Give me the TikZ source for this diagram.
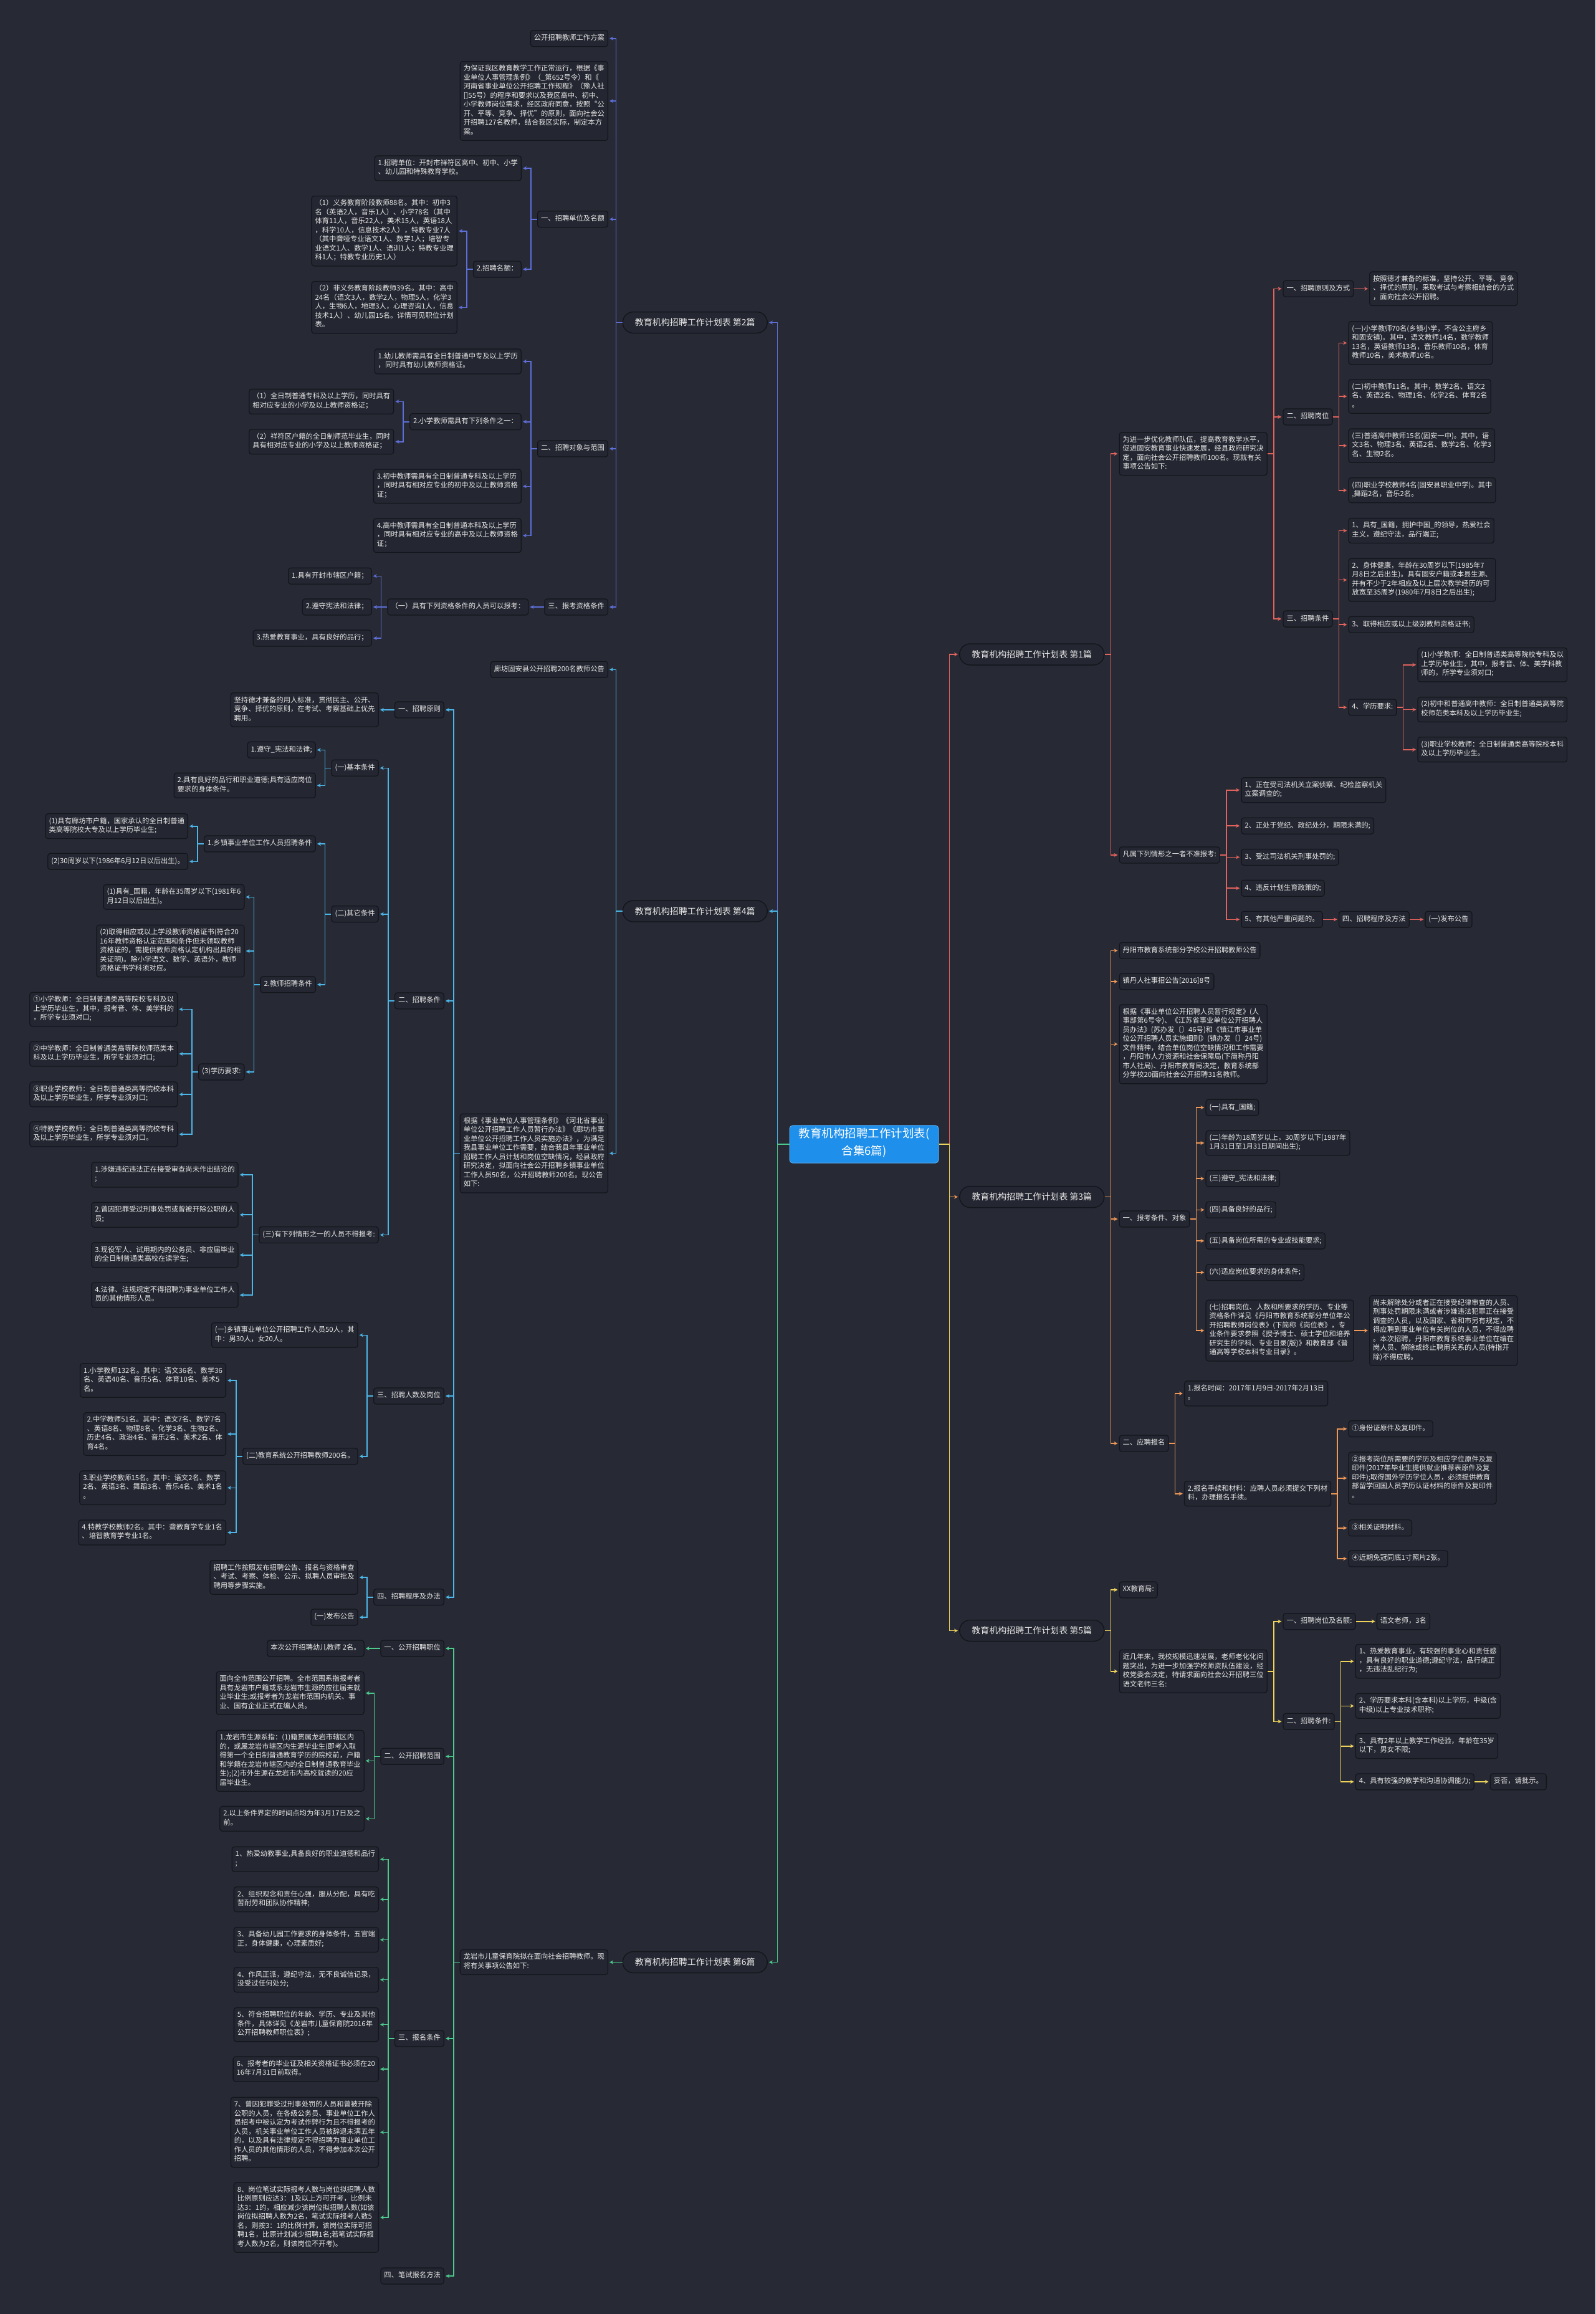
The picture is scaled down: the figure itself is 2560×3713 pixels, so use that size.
\documentclass[tikz,border=0pt]{standalone}
\usepackage{fontspec}
\setmainfont{Noto Sans CJK SC}
\usetikzlibrary{arrows.meta}
\definecolor{bg}{HTML}{272A35}
\definecolor{nf}{HTML}{242731}
\definecolor{nb}{HTML}{14161C}
\definecolor{tx}{HTML}{E8E8E8}
\definecolor{ca}{HTML}{E2625C}
\definecolor{cb}{HTML}{5D6FD8}
\definecolor{cc}{HTML}{EE9757}
\definecolor{cd}{HTML}{4DB6E8}
\definecolor{ce}{HTML}{EED35B}
\definecolor{cf}{HTML}{4CC98C}
\definecolor{rootc}{HTML}{1E8FEA}
\tikzset{
  bx/.style={draw=nb, fill=nf, line width=1.3pt, rounded corners=4pt, text=tx,
    font=\fontsize{11.3}{14.5}\selectfont, align=left, inner xsep=5.5pt, inner ysep=5.75pt,
    execute at begin node=\strut, execute at end node=\strut},
  L/.style={bx, anchor=east},
  R/.style={bx, anchor=west},
  lv/.style={draw=nb, fill=nf, line width=1.5pt, rounded corners=17pt, text=tx,
    font=\fontsize{14}{16}\selectfont, minimum width=232pt, minimum height=34pt, inner xsep=4pt, inner ysep=0pt},
  rt/.style={fill=rootc, draw=rootc!75!white, line width=1pt, rounded corners=5pt, text=white,
    font=\fontsize{18.5}{28}\selectfont, align=center, minimum width=239pt, inner ysep=4pt,
    execute at begin node=\strut, execute at end node=\strut},
  ed/.style={line width=1.6pt, -{Stealth[length=6pt,width=6pt]}, shorten >=2pt},
  ea/.style={ed, draw=ca}, eb/.style={ed, draw=cb}, ec/.style={ed, draw=cc},
  edd/.style={ed, draw=cd}, ee/.style={ed, draw=ce}, ef/.style={ed, draw=cf},
}
\newcommand\myL[3]{\draw[#1] (#2.west) -- ++(-10,0) |- (#3.east);}
\newcommand\myR[3]{\draw[#1] (#2.east) -- ++(10,0) |- (#3.west);}
\begin{document}
\begin{tikzpicture}[x=1pt,y=-1pt]
\fill[bg] (0,0) rectangle (2560,3713);
\useasboundingbox (0,0) rectangle (2560,3713);

% root
\node[rt] (C) at (1386.5,1836) {教育机构招聘工作计划表(\\合集6篇)};

% level 1
\node[lv, anchor=east] (L2) at (1232,517.5) {教育机构招聘工作计划表 第2篇};
\node[lv, anchor=east] (L4) at (1232,1462) {教育机构招聘工作计划表 第4篇};
\node[lv, anchor=east] (L6) at (1232,3148.5) {教育机构招聘工作计划表 第6篇};
\node[lv, anchor=west] (L1) at (1539,1050) {教育机构招聘工作计划表 第1篇};
\node[lv, anchor=west] (L3) at (1539,1920.5) {教育机构招聘工作计划表 第3篇};
\node[lv, anchor=west] (L5) at (1539,2616.5) {教育机构招聘工作计划表 第5篇};

\draw[eb] (C.west) -- ++(-19,0) |- (L2.east);
\draw[edd] (C.west) -- ++(-19,0) |- (L4.east);
\draw[ef] (C.west) -- ++(-19,0) |- (L6.east);
\draw[ea] (C.east) -- ++(17,0) |- (L1.west);
\draw[ec] (C.east) -- ++(17,0) |- (L3.west);
\draw[ee] (C.east) -- ++(17,0) |- (L5.west);

% ===== 第2篇 =====
\node[L] (A1) at (976,61.7) {公开招聘教师工作方案};
\node[L] (A2) at (976,162) {为保证我区教育教学工作正常运行，根据《事\\业单位人事管理条例》（\_第652号令）和《\\河南省事业单位公开招聘工作规程》（豫人社\\{[]}55号）的程序和要求以及我区高中、初中、\\小学教师岗位需求，经区政府同意，按照“公\\开、平等、竞争、择优”的原则，面向社会公\\开招聘127名教师，结合我区实际，制定本方\\案。};
\node[L] (A3) at (976,351.7) {一、招聘单位及名额};
\node[L] (A31) at (837,270) {1.招聘单位：开封市祥符区高中、初中、小学\\、幼儿园和特殊教育学校。};
\node[L] (A32) at (837,432) {2.招聘名额：};
\node[L] (A321) at (734,370.7) {（1）义务教育阶段教师88名。其中：初中3\\名（英语2人，音乐1人）、小学78名（其中\\体育11人，音乐22人，美术15人，英语18人\\，科学10人，信息技术2人），特教专业7人\\（其中聋哑专业语文1人、数学1人；培智专\\业语文1人、数学1人、语训1人；特教专业理\\科1人；特教专业历史1人）};
\node[L] (A322) at (734,493.3) {（2）非义务教育阶段教师39名。其中：高中\\24名（语文3人，数学2人，物理5人，化学3\\人，生物6人，地理3人，心理咨询1人，信息\\技术1人）、幼儿园15名。详情可见职位计划\\表。};
\node[L] (A4) at (976,720) {二、招聘对象与范围};
\node[L] (A41) at (837,580) {1.幼儿教师需具有全日制普通中专及以上学历\\，同时具有幼儿教师资格证。};
\node[L] (A42) at (837,676.7) {2.小学教师需具有下列条件之一：};
\node[L] (A421) at (632.4,644.3) {（1）全日制普通专科及以上学历，同时具有\\相对应专业的小学及以上教师资格证；};
\node[L] (A422) at (632.4,708.7) {（2）祥符区户籍的全日制师范毕业生，同时\\具有相对应专业的小学及以上教师资格证；};
\node[L] (A43) at (837,780.3) {3.初中教师需具有全日制普通专科及以上学历\\，同时具有相对应专业的初中及以上教师资格\\证；};
\node[L] (A44) at (837,859.3) {4.高中教师需具有全日制普通本科及以上学历\\，同时具有相对应专业的高中及以上教师资格\\证；};
\node[L] (A5) at (976,974) {三、报考资格条件};
\node[L] (A51) at (848.4,974) {（一）具有下列资格条件的人员可以报考：};
\node[L] (A511) at (596.8,924.3) {1.具有开封市辖区户籍；};
\node[L] (A512) at (596.8,974) {2.遵守宪法和法律；};
\node[L] (A513) at (596.8,1024) {3.热爱教育事业，具有良好的品行；};

\myL{eb}{L2}{A1} \myL{eb}{L2}{A2} \myL{eb}{L2}{A3} \myL{eb}{L2}{A4} \myL{eb}{L2}{A5}
\myL{eb}{A3}{A31} \myL{eb}{A3}{A32} \myL{eb}{A32}{A321} \myL{eb}{A32}{A322}
\myL{eb}{A4}{A41} \myL{eb}{A4}{A42} \myL{eb}{A4}{A43} \myL{eb}{A4}{A44}
\myL{eb}{A42}{A421} \myL{eb}{A42}{A422}
\myL{eb}{A5}{A51} \myL{eb}{A51}{A511} \myL{eb}{A51}{A512} \myL{eb}{A51}{A513}

% ===== 第4篇 =====
\node[L] (B1) at (976,1074.3) {廊坊固安县公开招聘200名教师公告};
\node[L] (B2) at (976,1850.6) {根据《事业单位人事管理条例》《河北省事业\\单位公开招聘工作人员暂行办法》《廊坊市事\\业单位公开招聘工作人员实施办法》，为满足\\我县事业单位工作需要，结合我县年事业单位\\招聘工作人员计划和岗位空缺情况，经县政府\\研究决定，拟面向社会公开招聘乡镇事业单位\\工作人员50名，公开招聘教师200名。现公告\\如下:};
\node[L] (B21) at (713,1139) {一、招聘原则};
\node[L] (B211) at (607.8,1139) {坚持德才兼备的用人标准，贯彻民主、公开、\\竞争、择优的原则，在考试、考察基础上优先\\聘用。};
\node[L] (B22) at (713,1606) {二、招聘条件};
\node[L] (B221) at (607.8,1232.3) {(一)基本条件};
\node[L] (B2211) at (506.8,1203.3) {1.遵守\_宪法和法律;};
\node[L] (B2212) at (506.8,1260.3) {2.具有良好的品行和职业道德;具有适应岗位\\要求的身体条件。};
\node[L] (B222) at (607.8,1466.7) {(二)其它条件};
\node[L] (B2221) at (506.8,1354) {1.乡镇事业单位工作人员招聘条件};
\node[L] (B22211) at (302,1325.7) {(1)具有廊坊市户籍，国家承认的全日制普通\\类高等院校大专及以上学历毕业生;};
\node[L] (B22212) at (302,1382.3) {(2)30周岁以下(1986年6月12日以后出生)。};
\node[L] (B2222) at (507,1579.8) {2.教师招聘条件};
\node[L] (B22221) at (392.6,1439.3) {(1)具有\_国籍，年龄在35周岁以下(1981年6\\月12日以后出生)。};
\node[L] (B22222) at (392.6,1526) {(2)取得相应或以上学段教师资格证书(符合20\\16年教师资格认定范围和条件但未领取教师\\资格证的，需提供教师资格认定机构出具的相\\关证明)。除小学语文、数学、英语外，教师\\资格证书学科须对应。};
\node[L] (B22223) at (392.6,1720) {(3)学历要求:};
\node[L] (B2a) at (285.4,1619.5) {①小学教师：全日制普通类高等院校专科及以\\上学历毕业生，其中，报考音、体、美学科的\\，所学专业须对口;};
\node[L] (B2b) at (285.4,1691) {②中学教师：全日制普通类高等院校师范类本\\科及以上学历毕业生，所学专业须对口;};
\node[L] (B2c) at (285.4,1756) {③职业学校教师：全日制普通类高等院校本科\\及以上学历毕业生，所学专业须对口;};
\node[L] (B2d) at (285.4,1820) {④特教学校教师：全日制普通类高等院校专科\\及以上学历毕业生，所学专业须对口。};
\node[L] (B223) at (607.8,1981.5) {(三)有下列情形之一的人员不得报考:};
\node[L] (B2231) at (382.7,1885) {1.涉嫌违纪违法正在接受审查尚未作出结论的\\;};
\node[L] (B2232) at (382.7,1949.2) {2.曾因犯罪受过刑事处罚或曾被开除公职的人\\员;};
\node[L] (B2233) at (382.7,2013.7) {3.现役军人、试用期内的公务员、非应届毕业\\的全日制普通类高校在读学生;};
\node[L] (B2234) at (382.7,2078) {4.法律、法规规定不得招聘为事业单位工作人\\员的其他情形人员。};
\node[L] (B23) at (713,2240) {三、招聘人数及岗位};
\node[L] (B231) at (574.7,2142.3) {(一)乡镇事业单位公开招聘工作人员50人，其\\中：男30人，女20人。};
\node[L] (B232) at (574.7,2336.7) {(二)教育系统公开招聘教师200名。};
\node[L] (B2321) at (363,2215) {1.小学教师132名。其中：语文36名、数学36\\名、英语40名、音乐5名、体育10名、美术5\\名。};
\node[L] (B2322) at (363,2301) {2.中学教师51名。其中：语文7名、数学7名\\、英语8名、物理8名、化学3名、生物2名、\\历史4名、政治4名、音乐2名、美术2名、体\\育4名。};
\node[L] (B2323) at (363,2387.3) {3.职业学校教师15名。其中：语文2名、数学\\2名、英语3名、舞蹈3名、音乐4名、美术1名\\。};
\node[L] (B2324) at (363,2459) {4.特教学校教师2名。其中：聋教育学专业1名\\、培智教育学专业1名。};
\node[L] (B24) at (713,2562.7) {四、招聘程序及办法};
\node[L] (B241) at (574.7,2531) {招聘工作按照发布招聘公告、报名与资格审查\\、考试、考察、体检、公示、拟聘人员审批及\\聘用等步骤实施。};
\node[L] (B242) at (574.7,2595) {(一)发布公告};

\myL{edd}{L4}{B1} \myL{edd}{L4}{B2}
\myL{edd}{B2}{B21} \myL{edd}{B2}{B22} \myL{edd}{B2}{B23} \myL{edd}{B2}{B24}
\myL{edd}{B21}{B211}
\myL{edd}{B22}{B221} \myL{edd}{B22}{B222} \myL{edd}{B22}{B223}
\myL{edd}{B221}{B2211} \myL{edd}{B221}{B2212}
\myL{edd}{B222}{B2221} \myL{edd}{B222}{B2222}
\myL{edd}{B2221}{B22211} \myL{edd}{B2221}{B22212}
\myL{edd}{B2222}{B22221} \myL{edd}{B2222}{B22222} \myL{edd}{B2222}{B22223}
\myL{edd}{B22223}{B2a} \myL{edd}{B22223}{B2b} \myL{edd}{B22223}{B2c} \myL{edd}{B22223}{B2d}
\myL{edd}{B223}{B2231} \myL{edd}{B223}{B2232} \myL{edd}{B223}{B2233} \myL{edd}{B223}{B2234}
\myL{edd}{B23}{B231} \myL{edd}{B23}{B232}
\myL{edd}{B232}{B2321} \myL{edd}{B232}{B2322} \myL{edd}{B232}{B2323} \myL{edd}{B232}{B2324}
\myL{edd}{B24}{B241} \myL{edd}{B24}{B242}

% ===== 第6篇 =====
\node[L] (D1) at (976,3148.5) {龙岩市儿童保育院拟在面向社会招聘教师。现\\将有关事项公告如下:};
\node[L] (D11) at (713,2645) {一、公开招聘职位};
\node[L] (D111) at (584.8,2645) {本次公开招聘幼儿教师 2名。};
\node[L] (D12) at (713,2818.3) {二、公开招聘范围};
\node[L] (D121) at (584.8,2716.7) {面向全市范围公开招聘。全市范围系指报考者\\具有龙岩市户籍或系龙岩市生源的应往届未就\\业毕业生;或报考者为龙岩市范围内机关、事\\业、国有企业正式在编人员。};
\node[L] (D122) at (584.8,2825.3) {1.龙岩市生源系指：(1)籍贯属龙岩市辖区内\\的，或属龙岩市辖区内生源毕业生(即考入取\\得第一个全日制普通教育学历的院校前，户籍\\和学籍在龙岩市辖区内的全日制普通教育毕业\\生);(2)市外生源在龙岩市内高校就读的20应\\届毕业生。};
\node[L] (D123) at (584.8,2918.3) {2.以上条件界定的时间点均为年3月17日及之\\前。};
\node[L] (D13) at (713,3270.9) {三、报名条件};
\node[L] (D131) at (608,2983.3) {1、热爱幼教事业,具备良好的职业道德和品行\\;};
\node[L] (D132) at (608,3047.7) {2、组织观念和责任心强，服从分配，具有吃\\苦耐劳和团队协作精神;};
\node[L] (D133) at (608,3112.5) {3、具备幼儿园工作要求的身体条件，五官端\\正，身体健康，心理素质好;};
\node[L] (D134) at (608,3176.6) {4、作风正派，遵纪守法，无不良诚信记录，\\没受过任何处分;};
\node[L] (D135) at (608,3248.6) {5、符合招聘职位的年龄、学历、专业及其他\\条件，具体详见《龙岩市儿童保育院2016年\\公开招聘教师职位表》;};
\node[L] (D136) at (608,3320) {6、报考者的毕业证及相关资格证书必须在20\\16年7月31日前取得。};
\node[L] (D137) at (608,3421.4) {7、曾因犯罪受过刑事处罚的人员和曾被开除\\公职的人员，在各级公务员、事业单位工作人\\员招考中被认定为考试作弊行为且不得报考的\\人员，机关事业单位工作人员被辞退未满五年\\的，以及具有法律规定不得招聘为事业单位工\\作人员的其他情形的人员，不得参加本次公开\\招聘。};
\node[L] (D138) at (608,3558) {8、岗位笔试实际报考人数与岗位拟招聘人数\\比例原则应达3：1及以上方可开考，比例未\\达3：1的，相应减少该岗位拟招聘人数(如该\\岗位拟招聘人数为2名，笔试实际报考人数5\\名，则按3：1的比例计算，该岗位实际可招\\聘1名，比原计划减少招聘1名;若笔试实际报\\考人数为2名，则该岗位不开考)。};
\node[L] (D14) at (713,3652) {四、笔试报名方法};

\myL{ef}{L6}{D1}
\myL{ef}{D1}{D11} \myL{ef}{D1}{D12} \myL{ef}{D1}{D13} \myL{ef}{D1}{D14}
\myL{ef}{D11}{D111}
\myL{ef}{D12}{D121} \myL{ef}{D12}{D122} \myL{ef}{D12}{D123}
\myL{ef}{D13}{D131} \myL{ef}{D13}{D132} \myL{ef}{D13}{D133} \myL{ef}{D13}{D134}
\myL{ef}{D13}{D135} \myL{ef}{D13}{D136} \myL{ef}{D13}{D137} \myL{ef}{D13}{D138}

% ===== 第1篇 =====
\node[R] (E1) at (1795.5,728.2) {为进一步优化教师队伍，提高教育教学水平，\\促进固安教育事业快速发展，经县政府研究决\\定，面向社会公开招聘教师100名。现就有关\\事项公告如下:};
\node[R] (E11) at (2058.4,463.3) {一、招聘原则及方式};
\node[R] (E111) at (2197,463.3) {按照德才兼备的标准，坚持公开、平等、竞争\\、择优的原则，采取考试与考察相结合的方式\\，面向社会公开招聘。};
\node[R] (E12) at (2058.4,668.9) {二、招聘岗位};
\node[R] (E121) at (2163.3,550.3) {(一)小学教师70名(乡镇小学，不含公主府乡\\和固安镇)。其中，语文教师14名，数学教师\\13名，英语教师13名，音乐教师10名，体育\\教师10名，美术教师10名。};
\node[R] (E122) at (2163.3,636) {(二)初中教师11名。其中，数学2名、语文2\\名、英语2名、物理1名、化学2名、体育2名\\。};
\node[R] (E123) at (2163.3,715.1) {(三)普通高中教师15名(固安一中)。其中，语\\文3名、物理3名、英语2名、数学2名、化学3\\名、生物2名。};
\node[R] (E124) at (2163.3,786.7) {(四)职业学校教师4名(固安县职业中学)。其中\\,舞蹈2名，音乐2名。};
\node[R] (E13) at (2058.4,993.1) {三、招聘条件};
\node[R] (E131) at (2163.3,851.5) {1、具有\_国籍，拥护中国\_的领导，热爱社会\\主义，遵纪守法，品行端正;};
\node[R] (E132) at (2163.3,930.6) {2、身体健康，年龄在30周岁以下(1985年7\\月8日之后出生)。具有固安户籍或本县生源、\\并有不少于2年相应及以上层次教学经历的可\\放宽至35周岁(1980年7月8日之后出生);};
\node[R] (E133) at (2163.3,1002.2) {3、取得相应或以上级别教师资格证书;};
\node[R] (E134) at (2163.3,1135) {4、学历要求:};
\node[R] (E1341) at (2274.3,1066.7) {(1)小学教师：全日制普通类高等院校专科及以\\上学历毕业生，其中，报考音、体、美学科教\\师的，所学专业须对口;};
\node[R] (E1342) at (2274.3,1138.6) {(2)初中和普通高中教师：全日制普通类高等院\\校师范类本科及以上学历毕业生;};
\node[R] (E1343) at (2274.3,1202.8) {(3)职业学校教师：全日制普通类高等院校本科\\及以上学历毕业生。};
\node[R] (E2) at (1795.5,1371.9) {凡属下列情形之一者不准报考:};
\node[R] (E21) at (1991.2,1267.7) {1、正在受司法机关立案侦察、纪检监察机关\\立案调查的;};
\node[R] (E22) at (1991.2,1325.2) {2、正处于党纪、政纪处分，期限未满的;};
\node[R] (E23) at (1991.2,1375.4) {3、受过司法机关刑事处罚的;};
\node[R] (E24) at (1991.2,1425.2) {4、违反计划生育政策的;};
\node[R] (E25) at (1991.2,1475.3) {5、有其他严重问题的。};
\node[R] (E251) at (2147.8,1475.3) {四、招聘程序及方法};
\node[R] (E252) at (2286.2,1475.3) {(一)发布公告};

\myR{ea}{L1}{E1} \myR{ea}{L1}{E2}
\myR{ea}{E1}{E11} \myR{ea}{E1}{E12} \myR{ea}{E1}{E13}
\myR{ea}{E11}{E111}
\myR{ea}{E12}{E121} \myR{ea}{E12}{E122} \myR{ea}{E12}{E123} \myR{ea}{E12}{E124}
\myR{ea}{E13}{E131} \myR{ea}{E13}{E132} \myR{ea}{E13}{E133} \myR{ea}{E13}{E134}
\myR{ea}{E134}{E1341} \myR{ea}{E134}{E1342} \myR{ea}{E134}{E1343}
\myR{ea}{E2}{E21} \myR{ea}{E2}{E22} \myR{ea}{E2}{E23} \myR{ea}{E2}{E24} \myR{ea}{E2}{E25}
\myR{ea}{E25}{E251} \myR{ea}{E251}{E252}

% ===== 第3篇 =====
\node[R] (F1) at (1795.5,1525.3) {丹阳市教育系统部分学校公开招聘教师公告};
\node[R] (F2) at (1795.5,1575) {镇丹人社事招公告[2016]8号};
\node[R] (F3) at (1795.5,1675.4) {根据《事业单位公开招聘人员暂行规定》(人\\事部第6号令)、《江苏省事业单位公开招聘人\\员办法》(苏办发〔〕46号)和《镇江市事业单\\位公开招聘人员实施细则》(镇办发〔〕24号)\\文件精神，结合单位岗位空缺情况和工作需要\\，丹阳市人力资源和社会保障局(下简称丹阳\\市人社局)、丹阳市教育局决定，教育系统部\\分学校20面向社会公开招聘31名教师。};
\node[R] (F4) at (1795.5,1956) {一、报考条件、对象};
\node[R] (F41) at (1934.4,1777.1) {(一)具有\_国籍;};
\node[R] (F42) at (1934.4,1834) {(二)年龄为18周岁以上，30周岁以下(1987年\\1月31日至1月31日期间出生);};
\node[R] (F43) at (1934.4,1891.1) {(三)遵守\_宪法和法律;};
\node[R] (F44) at (1934.4,1941.3) {(四)具备良好的品行;};
\node[R] (F45) at (1934.4,1991.1) {(五)具备岗位所需的专业或技能要求;};
\node[R] (F46) at (1934.4,2041.7) {(六)适应岗位要求的身体条件;};
\node[R] (F47) at (1934.4,2135) {(七)招聘岗位、人数和所要求的学历、专业等\\资格条件详见《丹阳市教育系统部分单位年公\\开招聘教师岗位表》(下简称《岗位表》，专\\业条件要求参照《授予博士、硕士学位和培养\\研究生的学科、专业目录(版)》和教育部《普\\通高等学校本科专业目录》。};
\node[R] (F471) at (2197,2135) {尚未解除处分或者正在接受纪律审查的人员、\\刑事处罚期限未满或者涉嫌违法犯罪正在接受\\调查的人员，以及国家、省和市另有规定，不\\得应聘到事业单位有关岗位的人员，不得应聘\\。本次招聘，丹阳市教育系统事业单位在编在\\岗人员、解除或终止聘用关系的人员(特指开\\除)不得应聘。};
\node[R] (F5) at (1795.5,2316) {二、应聘报名};
\node[R] (F51) at (1899.8,2236) {1.报名时间：2017年1月9日-2017年2月13日\\。};
\node[R] (F52) at (1899.8,2396.7) {2.报名手续和材料：应聘人员必须提交下列材\\料，办理报名手续。};
\node[R] (F521) at (2163.3,2292.7) {①身份证原件及复印件。};
\node[R] (F522) at (2163.3,2371.7) {②报考岗位所需要的学历及相应学位原件及复\\印件(2017年毕业生提供就业推荐表原件及复\\印件);取得国外学历学位人员，必须提供教育\\部留学回国人员学历认证材料的原件及复印件\\。};
\node[R] (F523) at (2163.3,2451.7) {③相关证明材料。};
\node[R] (F524) at (2163.3,2501) {④近期免冠同底1寸照片2张。};

\myR{ec}{L3}{F1} \myR{ec}{L3}{F2} \myR{ec}{L3}{F3} \myR{ec}{L3}{F4} \myR{ec}{L3}{F5}
\myR{ec}{F4}{F41} \myR{ec}{F4}{F42} \myR{ec}{F4}{F43} \myR{ec}{F4}{F44}
\myR{ec}{F4}{F45} \myR{ec}{F4}{F46} \myR{ec}{F4}{F47}
\myR{ec}{F47}{F471}
\myR{ec}{F5}{F51} \myR{ec}{F5}{F52}
\myR{ec}{F52}{F521} \myR{ec}{F52}{F522} \myR{ec}{F52}{F523} \myR{ec}{F52}{F524}

% ===== 第5篇 =====
\node[R] (G1) at (1795.5,2551) {XX教育局:};
\node[R] (G2) at (1795.5,2681.7) {近几年来，我校规模迅速发展，老师老化化问\\题突出，为进一步加强学校师资队伍建设，经\\校党委会决定，特请求面向社会公开招聘三位\\语文老师三名:};
\node[R] (G21) at (2058.4,2601.7) {一、招聘岗位及名额:};
\node[R] (G211) at (2208.7,2601.7) {语文老师，3名};
\node[R] (G22) at (2058.4,2762.3) {二、招聘条件:};
\node[R] (G221) at (2174.6,2665.7) {1、热爱教育事业，有较强的事业心和责任感\\，具有良好的职业道德;遵纪守法，品行端正\\，无违法乱纪行为;};
\node[R] (G222) at (2174.6,2737.3) {2、学历要求本科(含本科)以上学历，中级(含\\中级)以上专业技术职称;};
\node[R] (G223) at (2174.6,2801.7) {3、具有2年以上教学工作经验，年龄在35岁\\以下，男女不限;};
\node[R] (G224) at (2174.6,2859) {4、具有较强的教学和沟通协调能力;};
\node[R] (G2241) at (2390.6,2859) {妥否，请批示。};

\myR{ee}{L5}{G1} \myR{ee}{L5}{G2}
\myR{ee}{G2}{G21} \myR{ee}{G2}{G22}
\myR{ee}{G21}{G211}
\myR{ee}{G22}{G221} \myR{ee}{G22}{G222} \myR{ee}{G22}{G223} \myR{ee}{G22}{G224}
\myR{ee}{G224}{G2241}
\end{tikzpicture}
\end{document}
